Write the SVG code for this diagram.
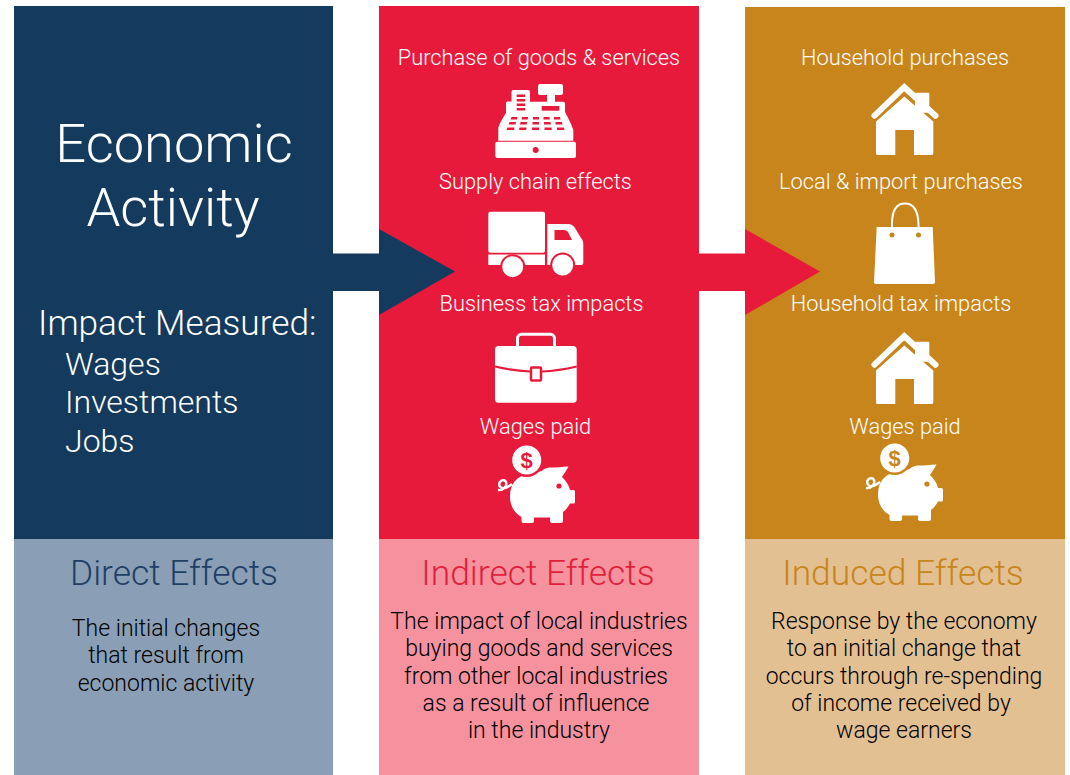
<svg xmlns="http://www.w3.org/2000/svg" xmlns:xlink="http://www.w3.org/1999/xlink" width="1070" height="775" viewBox="0 0 1070 775">
<style>
text{font-family:"Roboto","Liberation Sans",sans-serif;font-weight:300;text-anchor:middle}
.w{fill:#fff}.r{fill:#e81a3b}.o{fill:#c8851b}.cc{fill:currentColor}
.lab{font-size:21.8px;fill:#fff}
.body{font-size:23px;fill:#000}
.big{font-size:54.3px;fill:#fff}
.imp{font-size:32px;fill:#fff;text-anchor:start}
.head{font-size:35.4px}
</style>
<defs>
<g id="house">
<rect class="w" x="915" y="92.700" width="14.300" height="20" rx="1"/>
<path d="M874.500 115.700 904.300 87.200 935.500 115.700" fill="none" stroke="#fff" stroke-width="6" stroke-linecap="round" stroke-linejoin="miter"/>
<path class="w" d="M904.300 96.500 933.300 121.500V153.500a1.500 1.500 0 0 1-1.500 1.500H914V130H895.300V155H877.500a1.500 1.500 0 0 1-1.500-1.500V121.500Z"/>
</g>
<g id="pig">
<path class="w" d="M510 497C510 489 512 484 516 480C520 476 527 473 534 473L541.700 471C544 469 547 467.500 550 467.500C556 467.500 562 467 568.500 466.500C566.500 470 564 474 562 477C566 481 569 485 570 490H573.500a1.500 1.500 0 0 1 1.500 1.500V502a1.500 1.500 0 0 1-1.500 1.500H570C568 507 566 510 563 512V521a2 2 0 0 1-2 2H552a2 2 0 0 1-2-2V517.500H534V521a2 2 0 0 1-2 2H523.500a2 2 0 0 1-2-2V517C514 513 510 505 510 497Z"/>
<circle class="cc" cx="559" cy="486" r="2.600"/>
<circle class="cc" cx="526.700" cy="460" r="17"/>
<circle class="w" cx="526.700" cy="460" r="14.500"/>
<text class="cc" x="526.700" y="468" style="font-size:22px;font-weight:700;font-family:'Liberation Sans',sans-serif">$</text>
<path d="M512 484C507 488 502 490 499.500 486C498 481 504 478 506 482C507.500 486 503 491 498 490" fill="none" stroke="#fff" stroke-width="2.400"/>
</g>
</defs>

<g id="direct-column">
<rect x="14" y="6" width="319" height="533" fill="#143a5e"/>
<rect x="14" y="539" width="319" height="236" fill="#8a9fb5"/>
<text class="big" x="174" y="162">Economic</text>
<text class="big" x="173" y="226">Activity</text>
<text class="imp" x="38" y="335" style="font-size:35.200px">Impact Measured:</text>
<text class="imp" x="65" y="375">Wages</text>
<text class="imp" x="65" y="413">Investments</text>
<text class="imp" x="65" y="452">Jobs</text>
<text class="head" x="174" y="585" fill="#1f3f66">Direct Effects</text>
<text class="body" x="166" y="636">The initial changes</text>
<text class="body" x="166" y="663">that result from</text>
<text class="body" x="166" y="691">economic activity</text>
</g>

<g id="indirect-column">
<rect x="379" y="6" width="320" height="533" fill="#e81a3b"/>
<rect x="379" y="539" width="320" height="236" fill="#f6929e"/>
<text class="head" x="538" y="585" fill="#e01f3d">Indirect Effects</text>
<text class="body" x="539" y="629">The impact of local industries</text>
<text class="body" x="539" y="656">buying goods and services</text>
<text class="body" x="536" y="684">from other local industries</text>
<text class="body" x="536" y="711">as a result of influence</text>
<text class="body" x="539" y="738">in the industry</text>
<text class="lab" x="539" y="65">Purchase of goods &amp; services</text>
<text class="lab" x="535.500" y="189">Supply chain effects</text>
<text class="lab" x="541.500" y="311">Business tax impacts</text>
<text class="lab" x="535.500" y="433.500">Wages paid</text>
</g>

<g id="induced-column">
<rect x="745" y="7" width="320" height="532" fill="#c8851b"/>
<rect x="745" y="539" width="320" height="236" fill="#e3c092"/>
<text class="head" x="903" y="585" fill="#c8851b">Induced Effects</text>
<text class="body" x="904" y="629">Response by the economy</text>
<text class="body" x="904" y="656">to an initial change that</text>
<text class="body" x="904" y="684">occurs through re-spending</text>
<text class="body" x="901" y="711">of income received by</text>
<text class="body" x="904" y="738">wage earners</text>
<text class="lab" x="905" y="65">Household purchases</text>
<text class="lab" x="901" y="189">Local &amp; import purchases</text>
<text class="lab" x="901" y="311">Household tax impacts</text>
<text class="lab" x="905" y="433.500">Wages paid</text>
</g>

<g id="connectors">
<path fill="#143a5e" d="M333 253.500H379V229L455 271.500 379 315V291H333Z"/>
<path fill="#e81a3b" d="M699 253.500H745V229L820 271.500 745 315V291H699Z"/>
</g>

<g id="icon-register">
<rect class="w" x="495.300" y="141.700" width="80.700" height="16.300" rx="2"/>
<circle class="r" cx="535.700" cy="150" r="3"/>
<path class="w" d="M498.300 140.700V128C500 122 503 118 506 113V103a1.500 1.500 0 0 1 1.500-1.500H511.500V92a2 2 0 0 1 2-2H528a2 2 0 0 1 2 2V101.700H547V95H540a2 2 0 0 1-2-2V86a2 2 0 0 1 2-2H561a2 2 0 0 1 2 2V93a2 2 0 0 1-2 2H555V101.700H563a2 2 0 0 1 2 2V112C568 118 571 123 573.300 130V140.700Z"/>
<g class="r">
<rect x="516.700" y="94.500" width="8.500" height="2.500"/><rect x="516.700" y="99" width="8.500" height="2.500"/><rect x="516.700" y="103.500" width="8.500" height="2.500"/><rect x="516.700" y="108" width="8.500" height="2.500"/>
<rect x="541.700" y="106" width="17.600" height="4.700"/>
<path d="M511.500 117h6l-.5 2.500h-6.500zM522 117h6l-.2 2.500h-6.300zM533 117h6v2.500h-6zM543.500 117h6l.3 2.500h-6.300zM554 117h6l.5 2.500h-6.500zM509.500 122h6.500l-.5 2.500h-7zM520.500 122h6.500l-.2 2.500h-6.800zM532.500 122h6.500v2.500h-6.500zM544 122h6.500l.3 2.500h-6.800zM555.500 122h6.500l.5 2.500h-7zM507.500 127.500h7l-.5 2.500h-7.500zM519.500 127.500h7l-.2 2.500h-7.300zM532 127.500h7v2.500h-7zM544.500 127.500h7l.3 2.500h-7.300zM557 127.500h7l.5 2.500h-7.500z"/>
</g>
</g>

<g id="icon-truck">
<rect class="w" x="488.300" y="211.700" width="56.700" height="41" rx="2"/>
<path class="w" d="M488.300 254.500H545V265H488.300Z"/>
<path class="w" d="M547.300 224H568C571 224 573 225 575 228L581 238C583 240 583.300 242 583.300 245V263a2 2 0 0 1-2 2H547.300Z"/>
<path class="r" d="M554.500 230H564C566 230 567 231 568 232L572 240H554.500Z"/>
<circle class="r" cx="512.700" cy="266.700" r="12.500"/>
<circle class="w" cx="512.700" cy="266.700" r="10.500"/>
<circle class="r" cx="562.700" cy="265" r="12.500"/>
<circle class="w" cx="562.700" cy="265" r="10.500"/>
</g>

<g id="icon-briefcase">
<rect x="517.500" y="334.300" width="37" height="20" rx="4" fill="none" stroke="#fff" stroke-width="3"/>
<rect class="w" x="495" y="346" width="81.700" height="56.700" rx="3.500"/>
<path d="M495 366.500C508 369.500 518 371 530 371.500M541.700 371.500C553 371 564 369.500 576.700 366.500" fill="none" stroke="#e81a3b" stroke-width="2"/>
<rect x="531" y="367.500" width="10" height="13" rx="1" fill="#fff" stroke="#e81a3b" stroke-width="2.500"/>
</g>

<g id="icon-pig-red" color="#e81a3b"><use xlink:href="#pig" href="#pig"/></g>

<g id="icon-house-1"><use xlink:href="#house" href="#house"/></g>

<g id="icon-bag">
<path class="w" d="M876.700 227H932.700L935 282a2 2 0 0 1-2 2H876a2 2 0 0 1-2-2Z"/>
<path d="M892 233V224C892 210 897 203.500 905 203.500C913 203.500 918 210 918.500 224V233" fill="none" stroke="#fff" stroke-width="2"/>
<circle class="o" cx="892" cy="235" r="2.500"/><circle class="o" cx="918.500" cy="235" r="2.500"/>
</g>

<g id="icon-house-2"><use xlink:href="#house" href="#house" y="249"/></g>

<g id="icon-pig-gold" color="#c8851b"><use xlink:href="#pig" href="#pig" transform="translate(368 -2)"/></g>
</svg>
